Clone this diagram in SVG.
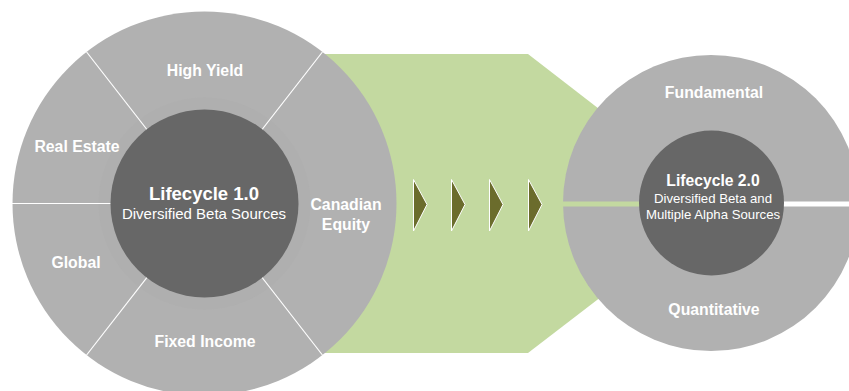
<svg xmlns="http://www.w3.org/2000/svg" width="849" height="391" viewBox="0 0 849 391">
  <style>
    .ring { fill: #b1b1b1; }
    .core { fill: #676767; }
    .sep { stroke: #ffffff; stroke-width: 1.2; fill: none; }
    .lbl { font-family: "Liberation Sans", Arial, sans-serif; font-weight: bold; font-size: 15.8px; fill: #ffffff; text-anchor: middle; }
    .title { font-family: "Liberation Sans", Arial, sans-serif; font-weight: bold; fill: #ffffff; text-anchor: middle; }
    .sub { font-family: "Liberation Sans", Arial, sans-serif; fill: #ffffff; text-anchor: middle; }
    .chev { fill: #6b6c2c; stroke: #ffffff; stroke-width: 1; stroke-linejoin: miter; }
  </style>

  <rect width="849" height="391" fill="#ffffff"/>

  <!-- green transition band pointing into the second circle -->
  <g id="band">
    <polygon points="300,54 528,54 722,204 528,353 300,353" fill="#c3d9a0"/>
  </g>

  <!-- Lifecycle 1.0 wheel -->
  <g id="wheel-1">
    <circle class="ring" cx="204.5" cy="203.5" r="192"/>
    <circle cx="204.5" cy="203.5" r="106" fill="#afafaf"/>
    <line class="sep" x1="12" y1="203.5" x2="204.5" y2="203.5"/>
    <line class="sep" x1="86.6" y1="52" x2="204.5" y2="203.5"/>
    <line class="sep" x1="322.4" y1="52" x2="204.5" y2="203.5"/>
    <line class="sep" x1="86.6" y1="355" x2="204.5" y2="203.5"/>
    <line class="sep" x1="322.4" y1="355" x2="204.5" y2="203.5"/>
    <circle class="core" cx="204.5" cy="203.5" r="94"/>
  </g>

  <g id="seg-high-yield"><text class="lbl" x="205" y="76">High Yield</text></g>
  <g id="seg-real-estate"><text class="lbl" x="77" y="151.5">Real Estate</text></g>
  <g id="seg-global"><text class="lbl" x="76" y="268">Global</text></g>
  <g id="seg-fixed-income"><text class="lbl" x="205" y="346.5">Fixed Income</text></g>
  <g id="seg-canadian-equity">
    <text class="lbl" x="346" y="210">Canadian</text>
    <text class="lbl" x="346" y="230">Equity</text>
  </g>
  <g id="core-1">
    <text class="title" x="204" y="200" font-size="18.5">Lifecycle 1.0</text>
    <text class="sub" x="204" y="219" font-size="15">Diversified Beta Sources</text>
  </g>

  <!-- progression chevrons -->
  <g id="chevrons">
    <polygon class="chev" points="413.5,179.5 427,204.5 413.5,231"/>
    <polygon class="chev" points="451.5,179.5 465,204.5 451.5,231"/>
    <polygon class="chev" points="489.5,179.5 503,204.5 489.5,231"/>
    <polygon class="chev" points="528.5,179.5 542,204.5 528.5,231"/>
  </g>

  <!-- Lifecycle 2.0 wheel -->
  <g id="wheel-2">
    <circle class="ring" cx="711" cy="203" r="148"/>
    <rect x="560" y="201.5" width="151" height="5" fill="#c3d9a0"/>
    <rect x="711" y="201.5" width="140" height="5" fill="#ffffff"/>
    <circle class="core" cx="711.5" cy="203" r="72.5"/>
  </g>

  <g id="seg-fundamental"><text class="lbl" x="714" y="98.3">Fundamental</text></g>
  <g id="seg-quantitative"><text class="lbl" x="714" y="315">Quantitative</text></g>
  <g id="core-2">
    <text class="title" x="713" y="186" font-size="15.7">Lifecycle 2.0</text>
    <text class="sub" x="713" y="202.7" font-size="13.2">Diversified Beta and</text>
    <text class="sub" x="713" y="219.3" font-size="13.2">Multiple Alpha Sources</text>
  </g>
</svg>
